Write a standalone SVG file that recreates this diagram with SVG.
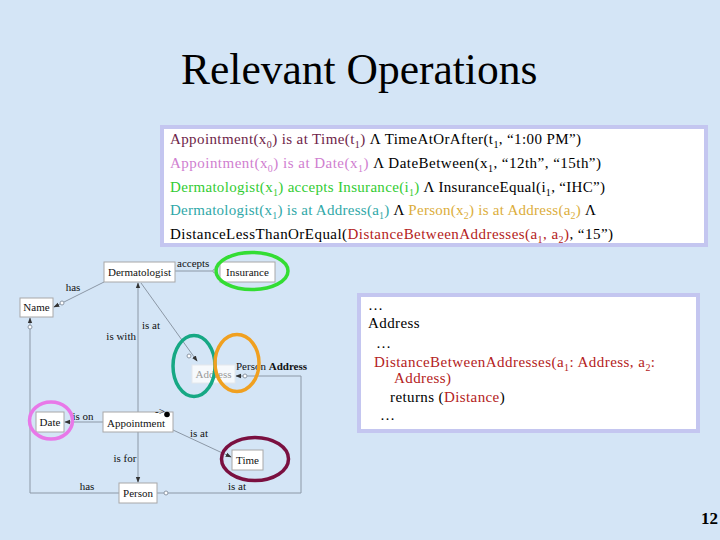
<svg xmlns="http://www.w3.org/2000/svg" width="720" height="540" viewBox="0 0 720 540">
<defs>
<style>
.bg{fill:#d4e5f6}
.panel{fill:#ffffff;stroke:#c4c6f0;stroke-width:4}
.t{font-family:"Liberation Serif","Times New Roman",serif;font-size:15px;fill:#000}
.p2{letter-spacing:0.4px}
.s{font-size:10px;baseline-shift:-4px}
.c1{fill:#6e2448}.c2{fill:#d080d0}.c3{fill:#33cc33}.c4{fill:#30a8a8}.c5{fill:#dcae3c}.c6{fill:#b42222}
.node rect{fill:#fff;stroke:#a8a8a8;stroke-width:1}
.nt{font-family:"Liberation Serif","Times New Roman",serif;font-size:11px;fill:#111;text-anchor:middle}
.lb{font-family:"Liberation Serif","Times New Roman",serif;font-size:11px;fill:#111}
.ln{stroke:#8c98a6;stroke-width:1;fill:none}
.oc{fill:#fff;stroke:#8c98a6;stroke-width:1}
.ring{fill:none;stroke-width:3.5}
</style>
<marker id="ar" viewBox="0 0 8 8" refX="7" refY="4" markerWidth="6" markerHeight="6" orient="auto-start-reverse" markerUnits="userSpaceOnUse">
<path d="M0,1 L8,4 L0,7 z" fill="#333"/>
</marker>
</defs>
<rect class="bg" x="0" y="0" width="720" height="540"/>
<text x="181" y="84" font-family="'Liberation Serif','Times New Roman',serif" font-size="43.5" fill="#000">Relevant Operations</text>

<g id="panel1">
<rect class="panel" x="162" y="127" width="544" height="118"/>
<text class="t" x="170" y="144" textLength="411" lengthAdjust="spacing"><tspan class="c1">Appointment(x<tspan class="s">0</tspan>) is at Time(t<tspan class="s">1</tspan>)</tspan> Λ TimeAtOrAfter(t<tspan class="s">1</tspan>, “1:00 PM”)</text>
<text class="t" x="170" y="168" textLength="431" lengthAdjust="spacing"><tspan class="c2">Appointment(x<tspan class="s">0</tspan>) is at Date(x<tspan class="s">1</tspan>)</tspan> Λ DateBetween(x<tspan class="s">1</tspan>, “12th”, “15th”)</text>
<text class="t" x="170" y="191.5" textLength="435" lengthAdjust="spacing"><tspan class="c3">Dermatologist(x<tspan class="s">1</tspan>) accepts Insurance(i<tspan class="s">1</tspan>)</tspan> Λ InsuranceEqual(i<tspan class="s">1</tspan>, “IHC”)</text>
<text class="t" x="170" y="215" textLength="426" lengthAdjust="spacing"><tspan class="c4">Dermatologist(x<tspan class="s">1</tspan>) is at Address(a<tspan class="s">1</tspan>)</tspan> Λ <tspan class="c5">Person(x<tspan class="s">2</tspan>) is at Address(a<tspan class="s">2</tspan>)</tspan> Λ</text>
<text class="t" x="170" y="239" textLength="443" lengthAdjust="spacing">DistanceLessThanOrEqual(<tspan class="c6">DistanceBetweenAddresses(a<tspan class="s">1</tspan>, a<tspan class="s">2</tspan>)</tspan>, “15”)</text>
</g>

<g id="panel2">
<rect class="panel" x="359" y="295" width="339" height="136"/>
<text class="t p2" x="368" y="310">…</text>
<text class="t p2" x="368" y="328">Address</text>
<text class="t p2" x="376" y="348">…</text>
<text class="t c6" x="374" y="367" textLength="281" lengthAdjust="spacing">DistanceBetweenAddresses(a<tspan class="s">1</tspan>: Address, a<tspan class="s">2</tspan>:</text>
<text class="t p2 c6" x="394" y="383">Address)</text>
<text class="t p2" x="390" y="402">returns (<tspan class="c6">Distance</tspan>)</text>
<text class="t p2" x="380" y="420">…</text>
</g>

<g id="connectors">
<line class="ln" x1="175" y1="271" x2="213" y2="271"/>
<circle class="oc" cx="215" cy="271" r="2"/>
<line class="ln" x1="104" y1="282" x2="54" y2="307" marker-end="url(#ar)"/>
<circle class="oc" cx="62" cy="303" r="2"/>
<polyline class="ln" points="119,493 30,493 30,318" marker-end="url(#ar)"/>
<circle class="oc" cx="30" cy="327" r="2"/>
<line class="ln" x1="138" y1="412" x2="138" y2="283" marker-end="url(#ar)"/>
<line class="ln" x1="141" y1="283" x2="197" y2="361" marker-end="url(#ar)"/>
<circle class="oc" cx="189" cy="356" r="2"/>
<line class="ln" x1="243" y1="376" x2="236" y2="376" marker-end="url(#ar)"/>
<circle class="oc" cx="245" cy="376" r="2"/>
<polyline class="ln" points="247,376 301,376 301,493 168,493"/>
<line class="ln" x1="164" y1="493" x2="157" y2="493"/>
<circle class="oc" cx="166" cy="493" r="2"/>
<line class="ln" x1="103" y1="422" x2="65" y2="422" marker-end="url(#ar)"/>
<line class="ln" x1="173" y1="430" x2="231" y2="457" marker-end="url(#ar)"/>
<line class="ln" x1="138" y1="432" x2="138" y2="482" marker-end="url(#ar)"/>
<text class="lb" x="177" y="267">accepts</text>
<text class="lb" x="73" y="291" text-anchor="middle">has</text>
<text class="lb" x="136" y="340" text-anchor="end">is with</text>
<text class="lb" x="151" y="329" text-anchor="middle">is at</text>
<text class="lb" x="236" y="370">Person <tspan font-weight="bold">Address</tspan></text>
<text class="lb" x="83" y="420" text-anchor="middle">is on</text>
<text class="lb" x="199" y="437" text-anchor="middle">is at</text>
<text class="lb" x="125" y="462" text-anchor="middle">is for</text>
<text class="lb" x="87" y="490" text-anchor="middle">has</text>
<text class="lb" x="237" y="490" text-anchor="middle">is at</text>
</g>

<g id="dermatologist" class="node"><rect x="104" y="262" width="71" height="20"/><text class="nt" x="139.5" y="275.5">Dermatologist</text></g>
<g id="insurance" class="node"><rect x="220" y="262" width="55" height="20"/><text class="nt" x="247.5" y="275.5">Insurance</text></g>
<g id="name" class="node"><rect x="20" y="298" width="33" height="19"/><text class="nt" x="36.5" y="311">Name</text></g>
<g id="address" class="node"><rect x="192" y="365" width="43" height="18" style="stroke:#e4e8ec;fill:#f6f9fc"/><text class="nt" x="213.5" y="378" style="fill:#9a9a9a">Address</text></g>
<g id="date" class="node"><rect x="36" y="412" width="28" height="20"/><text class="nt" x="50" y="425.5">Date</text></g>
<g id="appointment" class="node"><rect x="103" y="412" width="70" height="20"/><text class="nt" x="136" y="427">Appointment</text>
<text class="lb" x="155" y="414.5" font-size="8">-&gt;</text>
<circle cx="167" cy="414.5" r="2.8" fill="#000"/></g>
<g id="time" class="node"><rect x="232" y="450" width="31" height="20"/><text class="nt" x="247.5" y="463.5">Time</text></g>
<g id="person" class="node"><rect x="119" y="483" width="38" height="20"/><text class="nt" x="138" y="496.5">Person</text></g>

<g id="highlights">
<ellipse class="ring" cx="252" cy="271" rx="36" ry="18.5" stroke="#33dd33"/>
<ellipse class="ring" cx="194" cy="366" rx="21" ry="30.5" stroke="#16a884"/>
<ellipse class="ring" cx="237" cy="363" rx="22" ry="28.5" stroke="#f0a020"/>
<ellipse class="ring" cx="51" cy="420.5" rx="21.5" ry="18.5" stroke="#e878e8"/>
<ellipse class="ring" cx="255" cy="459" rx="33.5" ry="21.5" stroke="#7a1040"/>
</g>

<text x="718" y="524" text-anchor="end" font-family="'Liberation Serif','Times New Roman',serif" font-size="17" font-weight="bold" fill="#000">12</text>
</svg>
